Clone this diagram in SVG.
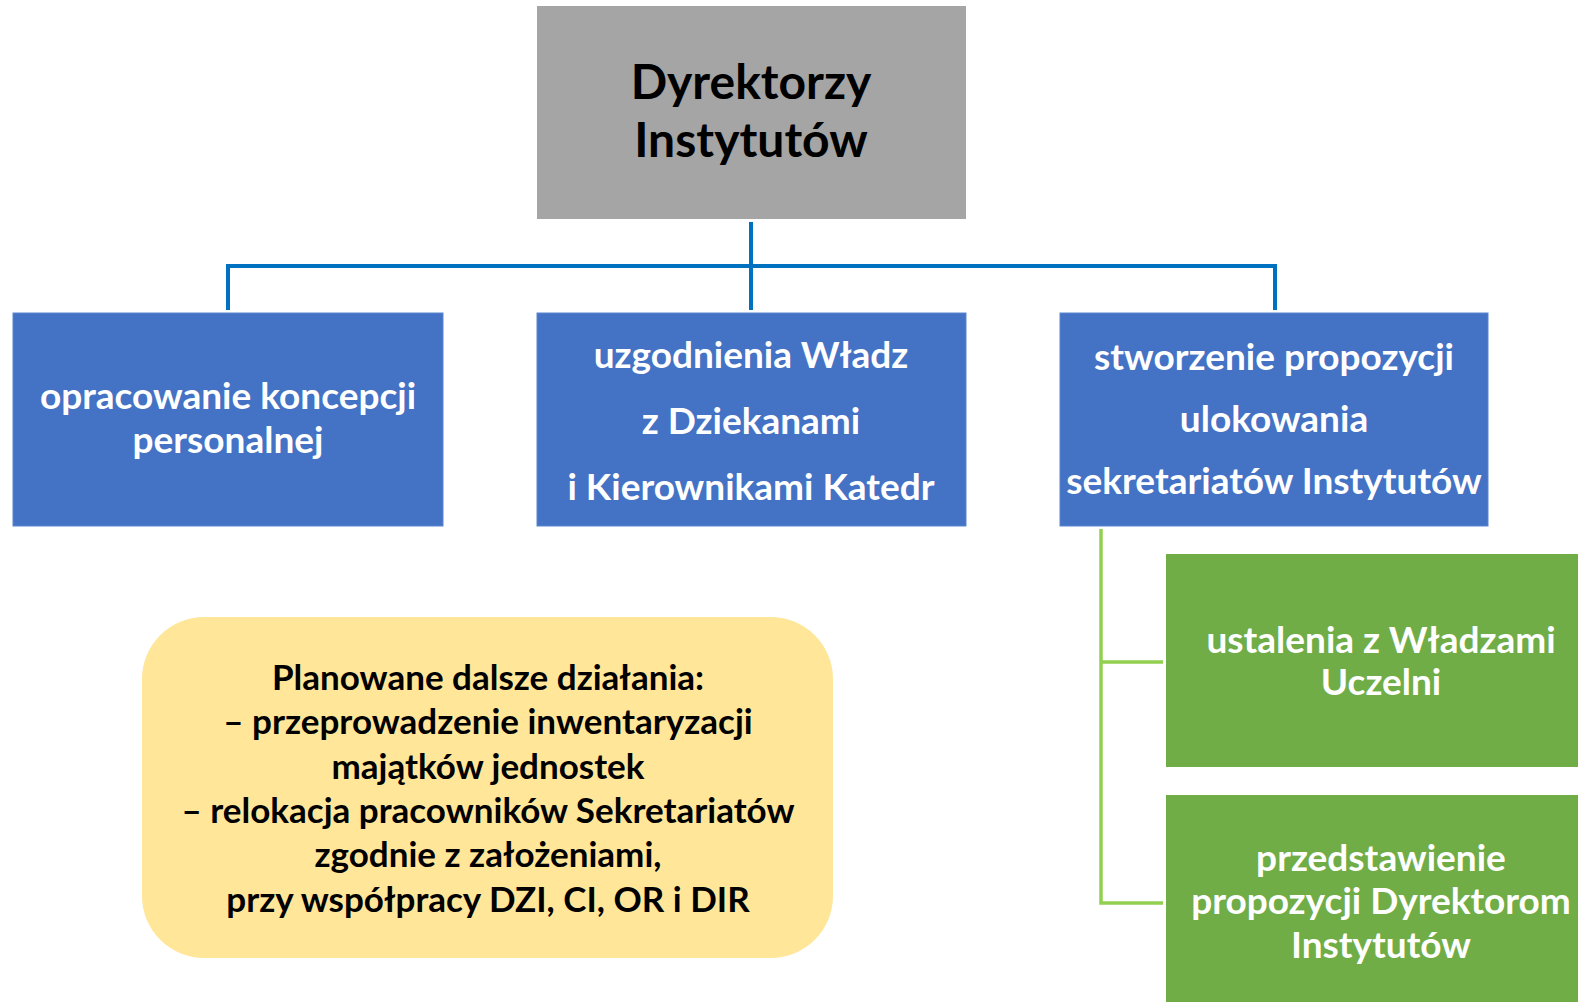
<svg xmlns="http://www.w3.org/2000/svg" width="1578" height="1002" viewBox="0 0 1578 1002">
<style>
text{font-family:Lato,"Liberation Sans",sans-serif;font-weight:bold;text-anchor:middle}
.w{fill:#FFFFFF;font-size:37px}
.k{fill:#000000}
.blue{fill:#4472C4;stroke:#5B86D0;stroke-width:1}
.green{fill:#70AD47}
.c1{stroke:#0070C0;stroke-width:4;fill:none}
.c2{stroke:#92D050;stroke-width:3.5;fill:none}
</style>
<rect width="1578" height="1002" fill="#FFFFFF"/>
<g id="connectors">
<path class="c1" d="M751 222V310M228 310V266H1275V310"/>
<path class="c2" d="M1101 529V903H1163M1101 662H1163"/>
</g>
<g id="dyrektorzy">
<rect x="537" y="6" width="429" height="213" fill="#A5A5A5"/>
<text class="k" x="751" y="99" font-size="48">Dyrektorzy</text>
<text class="k" x="751" y="157" font-size="48">Instytutów</text>
</g>
<g id="koncepcja">
<rect class="blue" x="13" y="313" width="430" height="213"/>
<text class="w" x="228" y="409">opracowanie koncepcji</text>
<text class="w" x="228" y="453">personalnej</text>
</g>
<g id="uzgodnienia">
<rect class="blue" x="537" y="313" width="429" height="213"/>
<text class="w" x="751" y="368">uzgodnienia Władz</text>
<text class="w" x="751" y="434">z Dziekanami</text>
<text class="w" x="751" y="500">i Kierownikami Katedr</text>
</g>
<g id="propozycje">
<rect class="blue" x="1060" y="313" width="428" height="213"/>
<text class="w" x="1274" y="370">stworzenie propozycji</text>
<text class="w" x="1274" y="432">ulokowania</text>
<text class="w" x="1274" y="494">sekretariatów Instytutów</text>
</g>
<g id="ustalenia">
<rect class="green" x="1166" y="554" width="430" height="213"/>
<text class="w" x="1381" y="653">ustalenia z Władzami</text>
<text class="w" x="1381" y="695">Uczelni</text>
</g>
<g id="przedstawienie">
<rect class="green" x="1166" y="795" width="430" height="220"/>
<text class="w" x="1381" y="871">przedstawienie</text>
<text class="w" x="1381" y="914">propozycji Dyrektorom</text>
<text class="w" x="1381" y="958">Instytutów</text>
</g>
<g id="plan">
<rect x="142" y="617" width="691" height="341" rx="62" fill="#FFE699"/>
<g class="k" font-size="35">
<text x="488" y="690">Planowane dalsze działania:</text>
<text x="488" y="734">– przeprowadzenie inwentaryzacji</text>
<text x="488" y="779">majątków jednostek</text>
<text x="488" y="823">– relokacja pracowników Sekretariatów</text>
<text x="488" y="867">zgodnie z założeniami,</text>
<text x="488" y="912">przy współpracy DZI, CI, OR i DIR</text>
</g>
</g>
</svg>
